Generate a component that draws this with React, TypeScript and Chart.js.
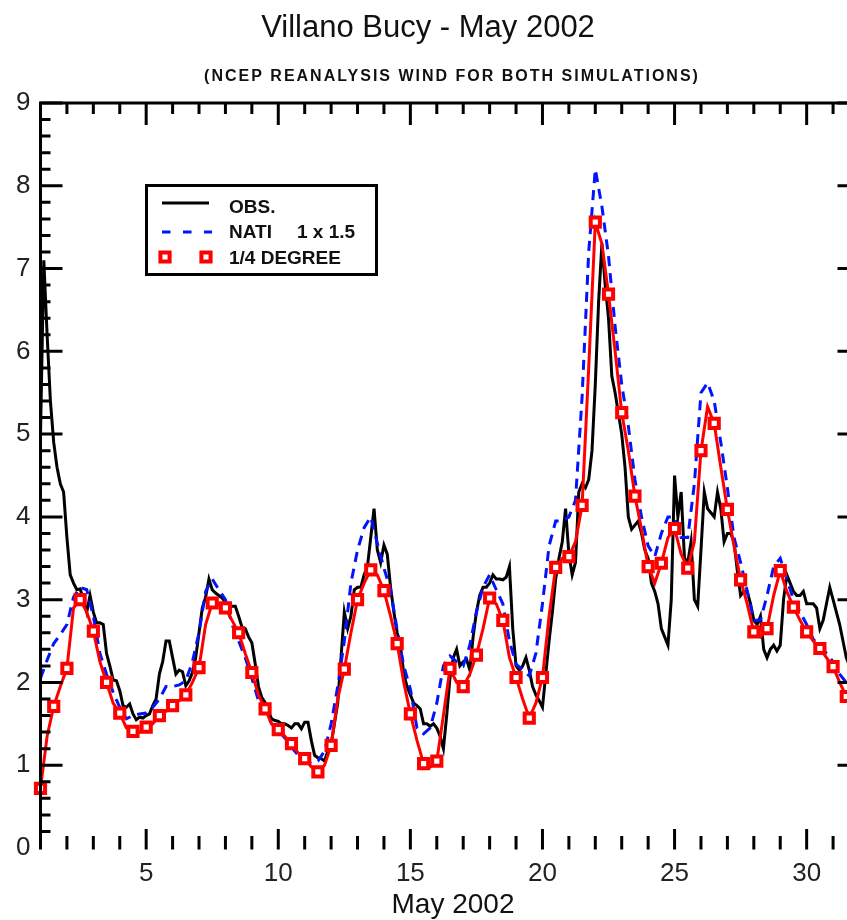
import React, { useEffect, useRef } from "react";
import { Chart, registerables } from "chart.js";

Chart.register(...registerables);

const FONT = '"Liberation Sans", Arial, Helvetica, sans-serif';

const TITLE = "Villano Bucy - May 2002";
const SUBTITLE = "(NCEP REANALYSIS WIND FOR BOTH SIMULATIONS)";
const X_AXIS_TITLE = "May 2002";
const X_TICKS = [5, 10, 15, 20, 25, 30];
const Y_TICKS = [0, 1, 2, 3, 4, 5, 6, 7, 8, 9];
const X_MIN = 1;
const X_MAX = 32;
const Y_MIN = 0;
const Y_MAX = 9;

const LEGEND_OBS = "OBS.";
const LEGEND_NATI = "NATI";
const LEGEND_NATI_RES = "1 x 1.5";
const LEGEND_QDEG = "1/4 DEGREE";

// Observations, every 3 hours from day 1 (8 values per day)
const OBS_STEP_DAYS = 0.125;
const obsValues = [
  5.0, 7.1, 6.2, 5.4, 4.9, 4.6, 4.4, 4.3, // 1
  3.75, 3.3, 3.2, 3.12, 3.13, 3.0, 2.85, 3.05, // 2
  2.85, 2.72, 2.72, 2.7, 2.35, 2.2, 2.03, 2.02, // 3
  1.9, 1.72, 1.7, 1.74, 1.62, 1.55, 1.58, 1.57, // 4
  1.6, 1.62, 1.72, 1.8, 2.1, 2.25, 2.5, 2.5, // 5
  2.3, 2.1, 2.15, 2.13, 1.96, 2.02, 2.12, 2.3, // 6
  2.6, 2.9, 3.03, 3.25, 3.12, 3.08, 3.05, 3.02, // 7
  2.97, 2.93, 2.92, 2.92, 2.8, 2.67, 2.65, 2.55, // 8
  2.48, 2.23, 1.95, 1.82, 1.76, 1.65, 1.56, 1.54, // 9
  1.53, 1.5, 1.5, 1.48, 1.45, 1.5, 1.5, 1.44, // 10
  1.52, 1.52, 1.3, 1.12, 1.09, 1.08, 1.05, 1.17, // 11
  1.25, 1.5, 1.75, 2.3, 2.85, 2.65, 2.8, 3.12, // 12
  3.15, 3.15, 3.3, 3.4, 3.75, 4.1, 3.6, 3.45, // 13
  3.66, 3.55, 3.15, 2.85, 2.6, 2.45, 2.1, 1.95, // 14
  1.85, 1.75, 1.72, 1.68, 1.5, 1.5, 1.47, 1.5, // 15
  1.45, 1.35, 1.2, 1.6, 2.06, 2.3, 2.4, 2.2, // 16
  2.25, 2.28, 2.15, 2.55, 2.85, 3.05, 3.15, 3.15, // 17
  3.2, 3.3, 3.25, 3.25, 3.24, 3.27, 3.4, 2.65, // 18
  2.2, 2.15, 2.2, 2.3, 2.15, 1.95, 1.85, 1.78, // 19
  1.7, 2.1, 2.5, 2.85, 3.25, 3.5, 3.7, 4.1, // 20
  3.55, 3.3, 3.45, 4.3, 4.4, 4.35, 4.45, 4.8, // 21
  5.6, 6.6, 7.3, 6.8, 6.4, 5.7, 5.5, 5.25, // 22
  5.0, 4.6, 4.0, 3.85, 3.9, 3.95, 3.8, 3.6, // 23
  3.5, 3.2, 3.1, 2.95, 2.65, 2.55, 2.45, 3.0, // 24
  4.5, 4.0, 4.3, 3.5, 3.45, 3.7, 3.0, 2.92, // 25
  3.6, 4.3, 4.1, 4.05, 4.0, 4.3, 4.1, 3.7, // 26
  3.8, 3.8, 3.7, 3.35, 3.05, 3.1, 3.1, 2.95, // 27
  2.75, 2.7, 2.8, 2.4, 2.3, 2.4, 2.45, 2.38, // 28
  2.45, 3.0, 3.3, 3.2, 3.1, 3.05, 3.05, 3.1, // 29
  2.95, 2.95, 2.95, 2.9, 2.65, 2.75, 2.95, 3.15, // 30
  3.0, 2.85, 2.7, 2.5, 2.3, 2.2, 2.15, 2.1, // 31
  2.1, // 32
];

// NATI 1 x 1.5, every 6 hours from day 1 (4 values per day)
const NATI_STEP_DAYS = 0.25;
const natiValues = [
  2.05, 2.27, 2.47, 2.58, // 1
  2.7, 3.03, 3.15, 3.12, // 2
  2.8, 2.35, 2.1, 1.88, // 3
  1.7, 1.56, 1.6, 1.62, // 4
  1.63, 1.7, 1.8, 1.95, // 5
  1.95, 1.97, 2.02, 2.25, // 6
  2.6, 3.1, 3.25, 3.12, // 7
  3.0, 2.7, 2.5, 2.3, // 8
  2.05, 1.78, 1.65, 1.5, // 9
  1.42, 1.33, 1.22, 1.12, // 10
  1.06, 1.02, 1.05, 1.17, // 11
  1.5, 1.95, 2.5, 3.2, // 12
  3.6, 3.87, 4.0, 3.68, // 13
  3.38, 3.12, 2.63, 2.2, // 14
  1.92, 1.45, 1.38, 1.45, // 15
  1.75, 2.2, 2.32, 2.25, // 16
  2.2, 2.45, 2.85, 3.15, // 17
  3.3, 3.12, 2.95, 2.5, // 18
  2.22, 2.15, 2.08, 2.35, // 19
  2.95, 3.65, 3.95, 3.95, // 20
  4.0, 4.2, 5.45, 7.2, // 21
  8.2, 7.75, 7.15, 6.3, // 22
  5.6, 5.1, 4.45, 4.0, // 23
  3.65, 3.52, 3.8, 4.0, // 24
  4.0, 3.75, 3.75, 4.4, // 25
  5.5, 5.62, 5.4, 4.9, // 26
  4.35, 3.75, 3.45, 3.1, // 27
  2.75, 2.75, 3.05, 3.4, // 28
  3.5, 3.25, 3.0, 2.85, // 29
  2.7, 2.52, 2.45, 2.35, // 30
  2.25, 2.1, 2.0, 1.9, // 31
  1.8, // 32
];

// 1/4 DEGREE, every 6 hours from day 1 (4 values per day); markers every 12 hours
const QDEG_STEP_DAYS = 0.25;
const qdegValues = [
  0.72, 1.35, 1.71, 1.95, // 1
  2.17, 2.9, 3.0, 2.85, // 2
  2.62, 2.25, 2.0, 1.75, // 3
  1.63, 1.45, 1.41, 1.4, // 4
  1.46, 1.5, 1.6, 1.65, // 5
  1.72, 1.78, 1.85, 2.0, // 6
  2.18, 2.7, 2.96, 2.95, // 7
  2.9, 2.75, 2.6, 2.35, // 8
  2.12, 1.85, 1.68, 1.5, // 9
  1.43, 1.35, 1.26, 1.15, // 10
  1.08, 0.98, 0.92, 1.0, // 11
  1.24, 1.8, 2.16, 2.6, // 12
  3.0, 3.2, 3.36, 3.3, // 13
  3.11, 2.8, 2.47, 2.0, // 14
  1.62, 1.3, 1.02, 0.98, // 15
  1.05, 1.6, 2.17, 2.0, // 16
  1.95, 2.1, 2.33, 2.65, // 17
  3.02, 2.95, 2.75, 2.3, // 18
  2.06, 1.8, 1.57, 1.75, // 19
  2.06, 2.8, 3.39, 3.5, // 20
  3.52, 3.7, 4.14, 5.8, // 21
  7.56, 7.3, 6.69, 6.0, // 22
  5.26, 4.8, 4.25, 3.85, // 23
  3.4, 3.2, 3.44, 3.75, // 24
  3.86, 3.55, 3.38, 3.7, // 25
  4.8, 5.33, 5.13, 4.6, // 26
  4.09, 3.65, 3.24, 2.95, // 27
  2.61, 2.55, 2.65, 3.05, // 28
  3.35, 3.1, 2.91, 2.75, // 29
  2.61, 2.5, 2.41, 2.3, // 30
  2.19, 2.0, 1.83, 1.7, // 31
  1.6, // 32
];

const COLOR_OBS = "#000000";
const COLOR_NATI = "#0014ff";
const COLOR_QDEG = "#ff0000";

function toPoints(values: number[], step: number) {
  return values.map((v, i) => ({ x: X_MIN + i * step, y: v }));
}

function drawSquareMarker(ctx: CanvasRenderingContext2D, x: number, y: number) {
  const s = 2 * 6.5 * Math.SQRT1_2;
  ctx.save();
  ctx.fillStyle = "#ffffff";
  ctx.strokeStyle = COLOR_QDEG;
  ctx.lineWidth = 4;
  ctx.setLineDash([]);
  ctx.beginPath();
  ctx.rect(x - s / 2, y - s / 2, s, s);
  ctx.fill();
  ctx.stroke();
  ctx.restore();
}

const decorPlugin = {
  id: "decor",
  afterDraw(chart: any) {
    const { ctx, chartArea: a, scales } = chart;
    const xs = scales.x;
    const ys = scales.y;
    ctx.save();
    ctx.strokeStyle = "#000";
    ctx.lineWidth = 3;
    ctx.lineCap = "butt";
    ctx.lineJoin = "miter";
    ctx.setLineDash([]);

    // frame (left, top, right; no bottom line)
    ctx.beginPath();
    ctx.moveTo(a.left, a.bottom + 1.5);
    ctx.lineTo(a.left, a.top);
    ctx.lineTo(a.right, a.top);
    ctx.lineTo(a.right, a.bottom + 1.5);
    ctx.stroke();

    // y ticks, inward on left and right
    for (let k = 1; k <= 45; k++) {
      const v = k / 5;
      const py = ys.getPixelForValue(v);
      const len = k % 5 === 0 ? 22 : 10;
      ctx.beginPath();
      ctx.moveTo(a.left, py);
      ctx.lineTo(a.left + len, py);
      ctx.moveTo(a.right, py);
      ctx.lineTo(a.right - len, py);
      ctx.stroke();
    }

    // x ticks, inward on bottom and top
    for (let d = X_MIN + 1; d < X_MAX; d++) {
      const px = xs.getPixelForValue(d);
      const major = X_TICKS.includes(d);
      ctx.beginPath();
      ctx.moveTo(px, a.bottom + 1.5);
      ctx.lineTo(px, a.bottom - (major ? 19 : 12));
      ctx.moveTo(px, a.top);
      ctx.lineTo(px, a.top + (major ? 22 : 11));
      ctx.stroke();
    }

    // legend box
    ctx.fillStyle = "#fff";
    ctx.fillRect(146.5, 185.5, 230, 89);
    ctx.strokeRect(146.5, 185.5, 230, 89);
    ctx.beginPath();
    ctx.strokeStyle = COLOR_OBS;
    ctx.moveTo(162, 203);
    ctx.lineTo(209, 203);
    ctx.stroke();
    ctx.strokeStyle = COLOR_NATI;
    ctx.setLineDash([8.5, 12.5]);
    ctx.beginPath();
    ctx.moveTo(162, 232);
    ctx.lineTo(212, 232);
    ctx.stroke();
    ctx.setLineDash([]);
    drawSquareMarker(ctx, 165, 257);
    drawSquareMarker(ctx, 206, 257);

    ctx.fillStyle = "#111";
    ctx.textAlign = "left";
    ctx.textBaseline = "alphabetic";
    ctx.font = `bold 19px ${FONT}`;
    ctx.fillText(LEGEND_OBS, 229, 213);
    ctx.fillText(LEGEND_NATI, 229, 238);
    ctx.fillText(LEGEND_NATI_RES, 297, 238);
    ctx.fillText(LEGEND_QDEG, 229, 264);

    // titles
    ctx.textAlign = "center";
    ctx.font = `31px ${FONT}`;
    ctx.fillText(TITLE, 428, 37);
    ctx.font = `bold 16px ${FONT}`;
    (ctx as any).letterSpacing = "2px";
    ctx.fillText(SUBTITLE, 452, 81);
    (ctx as any).letterSpacing = "0px";
    ctx.font = `28px ${FONT}`;
    ctx.fillText(X_AXIS_TITLE, 453, 913);
    ctx.restore();
  },
};

export default function App() {
  const canvasRef = useRef<HTMLCanvasElement | null>(null);

  useEffect(() => {
    const canvas = canvasRef.current;
    if (!canvas) return;
    const chart = new Chart(canvas, {
      type: "line",
      data: {
        datasets: [
          {
            label: LEGEND_OBS,
            data: toPoints(obsValues, OBS_STEP_DAYS),
            borderColor: COLOR_OBS,
            borderWidth: 3,
            pointRadius: 0,
            tension: 0,
            order: 3,
            clip: false as any,
          },
          {
            label: `${LEGEND_NATI} ${LEGEND_NATI_RES}`,
            data: toPoints(natiValues, NATI_STEP_DAYS),
            borderColor: COLOR_NATI,
            borderWidth: 3,
            borderDash: [10, 7],
            pointRadius: 0,
            tension: 0,
            order: 2,
            clip: false as any,
          },
          {
            label: LEGEND_QDEG,
            data: toPoints(qdegValues, QDEG_STEP_DAYS),
            borderColor: COLOR_QDEG,
            borderWidth: 3,
            pointStyle: "rect",
            pointRadius: (c: any) => (c.dataIndex % 2 === 0 ? 6.5 : 0),
            pointBorderWidth: 4,
            pointBorderColor: COLOR_QDEG,
            pointBackgroundColor: "#ffffff",
            tension: 0,
            order: 1,
            clip: false as any,
          },
        ],
      },
      options: {
        animation: false,
        responsive: false,
        events: [],
        layout: { padding: { top: 103, right: 9.6, left: 0, bottom: 0 } },
        plugins: {
          legend: { display: false },
          tooltip: { enabled: false },
          title: { display: false },
        },
        scales: {
          x: {
            type: "linear",
            min: X_MIN,
            max: X_MAX,
            grid: { display: false, drawTicks: false },
            border: { display: false },
            afterBuildTicks: (s: any) => {
              s.ticks = X_TICKS.map((v) => ({ value: v }));
            },
            afterFit: (s: any) => {
              s.height = 72;
            },
            ticks: {
              autoSkip: false,
              maxRotation: 0,
              padding: 10,
              color: "#222",
              font: { family: FONT, size: 26 },
            },
          },
          y: {
            type: "linear",
            min: Y_MIN,
            max: Y_MAX,
            grid: { display: false, drawTicks: false },
            border: { display: false },
            afterBuildTicks: (s: any) => {
              s.ticks = Y_TICKS.map((v) => ({ value: v }));
            },
            afterFit: (s: any) => {
              s.width = 40.5;
            },
            ticks: {
              padding: 10,
              color: "#222",
              font: { family: FONT, size: 26 },
            },
          },
        },
      },
      plugins: [decorPlugin],
    });
    return () => chart.destroy();
  }, []);

  return (
    <div
      style={{
        position: "fixed",
        left: 0,
        top: 0,
        width: 847,
        height: 920,
        overflow: "hidden",
        background: "#fff",
      }}
    >
      <canvas
        ref={canvasRef}
        width={870}
        height={920}
        style={{ width: 870, height: 920, display: "block" }}
      />
    </div>
  );
}
